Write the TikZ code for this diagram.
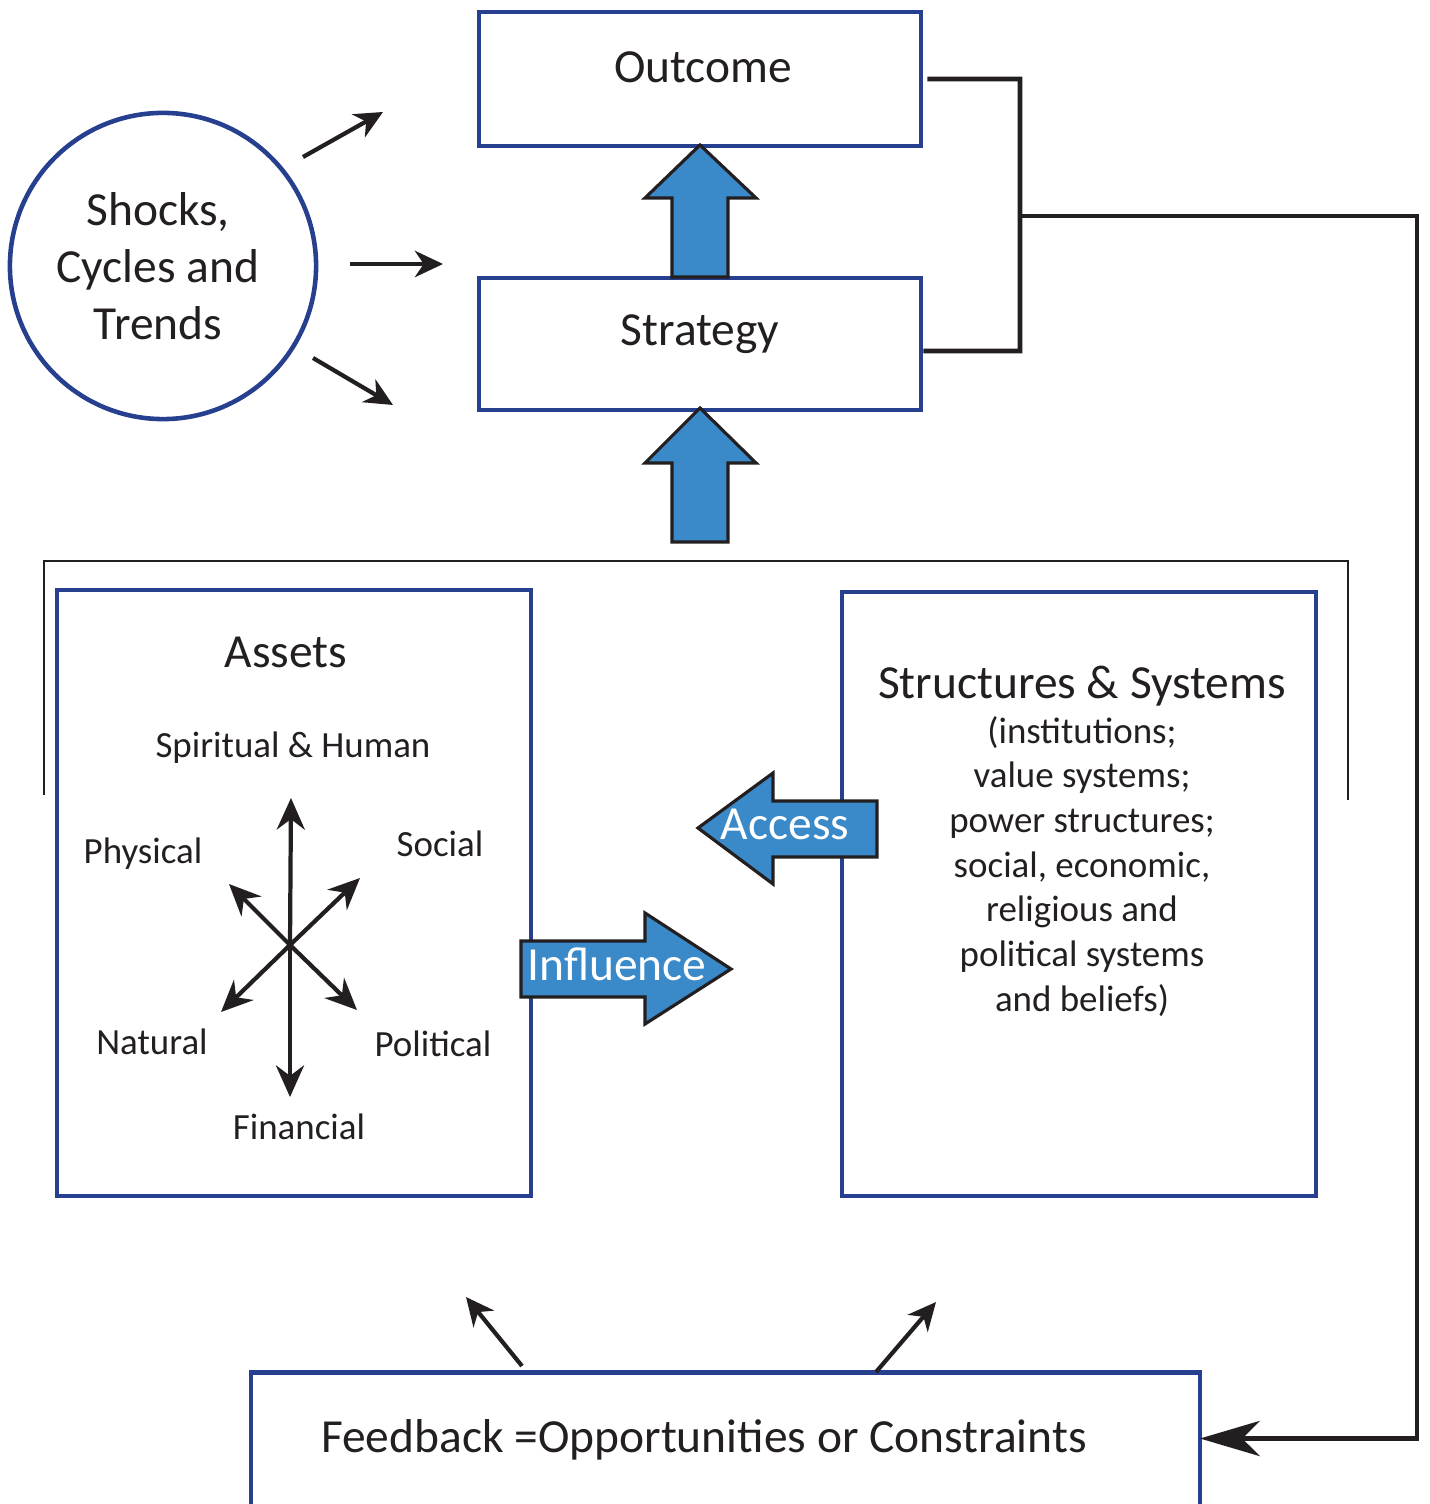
\documentclass[tikz,border=0pt]{standalone}
\usepackage{fontspec}
\setmainfont{Carlito}
\usetikzlibrary{arrows.meta,positioning}
\definecolor{boxblue}{RGB}{38,64,143}
\definecolor{arrowblue}{RGB}{58,137,201}
\definecolor{inkblack}{RGB}{35,31,32}

\tikzset{
  box/.style={draw=boxblue, line width=1.3pt, rectangle, inner sep=0pt},
  boxline/.style={draw=boxblue, line width=1.3pt},
  heading/.style={font=\fontsize{13.5}{16.2}\selectfont, text=inkblack},
  small/.style={font=\fontsize{10.5}{12.7}\selectfont, text=inkblack},
  conn/.style={draw=inkblack, line width=1.35pt},
  thinline/.style={draw=inkblack, line width=0.6pt},
  arr/.style={draw=inkblack, line width=1.2pt, -{Stealth[length=8pt,width=7.5pt,inset=2.5pt]}},
  stararr/.style={draw=inkblack, line width=1.2pt, -{Stealth[length=9pt,width=8pt,inset=3pt]}},
  blockarrow/.style={fill=arrowblue, draw=inkblack, line width=0.9pt},
}

\begin{document}
\begin{tikzpicture}[x=0.01cm, y=-0.01cm]
  \useasboundingbox (0,0) rectangle (1429,1504);

  % top row
  \node[box, circle, minimum size=3.06cm, align=center, heading] (shocks) at (163,266) {};
  \node[heading, align=center] (shockstxt) at (158,266) {Shocks,\\Cycles and\\Trends};
  \node[box, minimum width=4.42cm, minimum height=1.34cm] (outcome) at (700,79) {};
  \node[box, minimum width=4.42cm, minimum height=1.32cm] (strategy) at (700,344) {};
  \node[heading, anchor=base] (outcometxt) at (703,83) {Outcome};
  \node[heading, anchor=base] (strategytxt) at (700,346) {Strategy};

  % shocks hit the top
  \coordinate (shA) at (303,157);  \coordinate (shAend) at (383,112);
  \coordinate (shB) at (350,264);  \coordinate (shBend) at (443,264);
  \coordinate (shC) at (313,358);  \coordinate (shCend) at (393,405);
  \draw[arr] (shA) -- (shAend);
  \draw[arr] (shB) -- (shBend);
  \draw[arr] (shC) -- (shCend);

  % big up arrows
  \draw[blockarrow] (672,277) -- (672,198) -- (645,198) -- (700,145)
        -- (756,198) -- (728,198) -- (728,277) -- cycle;
  \draw[blockarrow] (672,542) -- (672,463) -- (645,463) -- (700,408)
        -- (756,463) -- (728,463) -- (728,542) -- cycle;

  % feedback loop
  \draw[conn] ([xshift=0.04cm]outcome.east) -- (1020,79) -- (1020,351)
        -- ([yshift=-0.07cm]strategy.east);

  % bracket round the lower half
  \draw[thinline] (44,795) -- (44,561) -- (1348,561) -- (1348,800);

  % assets
  \node[box, minimum width=4.74cm, minimum height=6.06cm] (assets) at (294,893) {};
  \node[heading, anchor=base] (assetstxt) at (286,667) {Assets};
  \node[small, anchor=base] (spiritual) at (293,757) {Spiritual \& Human};
  \node[small, anchor=base] (physical) at (143,863) {Physical};
  \node[small, anchor=base] (social) at (440,856) {Social};
  \node[small, anchor=base] (natural) at (152,1054) {Natural};
  \node[small, anchor=base] (political) at (433,1056) {Political};
  \node[small, anchor=base] (financial) at (299,1139) {Financial};
  \coordinate (hub) at (290,945);
  \foreach \p in {(291,798),(290,1097),(229,884),(360,878),(221,1012),(357,1010)}
    \draw[stararr] (hub) -- \p;

  % structures and systems
  \node[box, minimum width=4.74cm, minimum height=6.04cm] (structures) at (1079,894) {};
  \node[heading, anchor=base] (structtxt) at (1082,698) {Structures \& Systems};
  \foreach \t [count=\i] in {{(institutions;}, {value systems;}, {power structures;},
      {social, economic,}, {religious and}, {political systems}, {and beliefs)}}
    \node[small, anchor=base] (struct\i) at (1082,743+44.7*\i-44.7) {\t};

  % access / influence
  \draw[blockarrow] (877,801) -- (773,801) -- (773,773) -- (698,828)
        -- (773,884) -- (773,857) -- (877,857) -- cycle;
  \node[heading, text=white, anchor=base] (accesstxt) at (785,839) {Access};
  \draw[blockarrow] (521,941) -- (645,941) -- (645,913) -- (731,969)
        -- (645,1024) -- (645,997) -- (521,997) -- cycle;
  \node[heading, text=white, anchor=base] (influencetxt) at (617,980) {Influence};

  % feedback
  \node[minimum width=9.47cm, minimum height=1.31cm, inner sep=0pt] (feedback) at (725.5,1438.5) {};
  \draw[boxline] (feedback.south west) -- (feedback.north west)
        -- (feedback.north east) -- (feedback.south east);
  \node[heading, anchor=base] (feedbacktxt) at (704,1452) {Feedback =Opportunities or Constraints};
  \draw[conn, -{Stealth[length=17pt,width=10pt,inset=5pt]}] (1020,216) -- (1417,216)
        |- (feedback.east);
  \coordinate (fbL) at (522,1366);  \coordinate (fbLend) at (466,1297);
  \coordinate (fbR) at (876,1372);  \coordinate (fbRend) at (936,1302);
  \draw[arr] (fbL) -- (fbLend);
  \draw[arr] (fbR) -- (fbRend);
\end{tikzpicture}
\end{document}
